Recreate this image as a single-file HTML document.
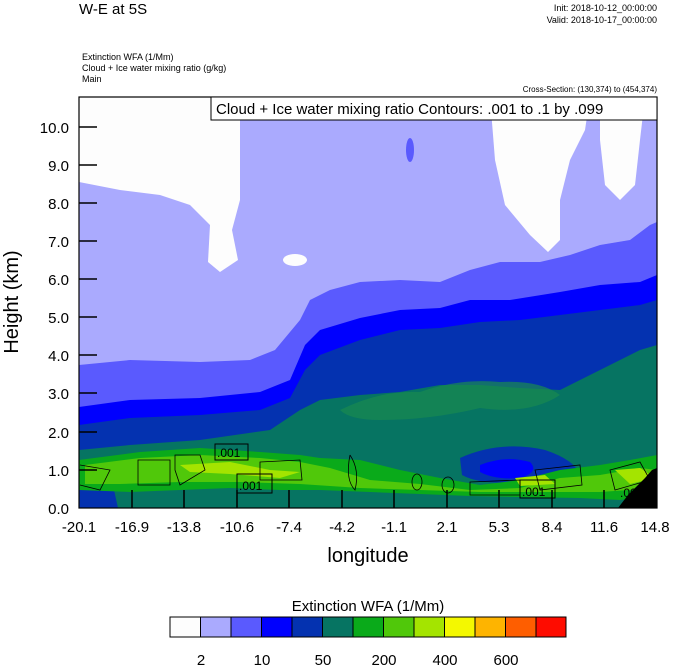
<!DOCTYPE html>
<html><head><meta charset="utf-8"><style>
body{margin:0;background:#fff;}
svg{display:block;font-family:"Liberation Sans",sans-serif;}
</style></head><body>
<svg width="674" height="667" viewBox="0 0 674 667" xmlns="http://www.w3.org/2000/svg">
<text x="79" y="14" font-size="15">W-E at 5S</text>
<text x="657" y="11" font-size="9" text-anchor="end">Init: 2018-10-12_00:00:00</text>
<text x="657" y="23" font-size="9" text-anchor="end">Valid: 2018-10-17_00:00:00</text>
<text x="82" y="60" font-size="9">Extinction WFA   (1/Mm)</text>
<text x="82" y="71" font-size="9">Cloud + Ice water mixing ratio   (g/kg)</text>
<text x="82" y="82" font-size="9">Main</text>
<text x="657" y="92" font-size="8" text-anchor="end">Cross-Section: (130,374) to (454,374)</text>
<defs><clipPath id="c"><rect x="79" y="97" width="578" height="411"/></clipPath></defs>
<g clip-path="url(#c)">
<rect x="79" y="97" width="578" height="411" fill="#aaaafe"/>
<path d="M79,97 L240,97 L240,200 L232,230 L238,260 L220,272 L208,262 L210,225 L190,205 L160,195 L120,190 L79,182 Z" fill="#fdfdfd"/>
<path d="M490,97 L590,97 L585,130 L570,160 L560,200 L560,240 L548,252 L530,235 L505,205 L495,160 Z" fill="#fdfdfd"/>
<path d="M600,97 L645,97 L640,140 L635,185 L620,200 L605,185 L600,140 Z" fill="#fdfdfd"/>
<ellipse cx="295" cy="260" rx="12" ry="6" fill="#fdfdfd"/>
<path d="M79,365 L130,360 L200,362 L250,360 L275,350 L300,320 L310,300 L330,290 L360,282 L400,280 L440,282 L470,270 L500,262 L540,262 L570,255 L600,245 L630,240 L650,225 L657,222 L657,508 L79,508 Z" fill="#5a5afe"/>
<ellipse cx="410" cy="150" rx="4" ry="12" fill="#5a5afe"/>
<path d="M79,407 L130,400 L200,398 L260,392 L290,380 L305,345 L320,330 L360,318 L400,310 L440,308 L470,300 L510,300 L560,292 L600,285 L640,282 L657,275 L657,508 L79,508 Z" fill="#0000fe"/>
<path d="M79,425 L130,418 L200,415 L260,410 L290,398 L305,370 L320,355 L360,340 L400,330 L440,328 L480,322 L520,320 L560,315 L600,310 L640,305 L657,300 L657,508 L79,508 Z" fill="#0432b0"/>
<path d="M79,450 L130,445 L200,440 L270,430 L300,410 L320,400 L360,395 L400,392 L440,385 L480,385 L520,388 L560,390 L600,370 L640,350 L657,345 L657,508 L79,508 Z" fill="#067462"/>
<path d="M340,410 Q380,390 420,392 Q460,378 500,382 Q540,380 560,395 Q530,415 480,408 Q430,420 380,420 Q350,420 340,410 Z" fill="#1a8a50" opacity="0.7"/>
<path d="M460,458 Q500,440 545,450 Q575,460 580,475 Q560,480 520,482 Q480,485 462,475 Z" fill="#0432b0"/>
<path d="M480,465 Q505,455 530,462 Q540,472 520,478 Q495,480 480,472 Z" fill="#0000fe"/>
<path d="M79,470 L110,472 L118,508 L79,508 Z" fill="#0432b0"/>
<path d="M79,460 L140,452 L200,448 L260,452 L300,455 L320,458 L360,460 L400,470 L440,478 L480,485 L520,480 L560,470 L600,465 L630,460 L657,455 L657,495 L620,500 L580,498 L520,497 L470,496 L420,494 L370,492 L320,490 L280,490 L230,488 L180,490 L130,492 L79,490 Z" fill="#0aaa1a"/>
<path d="M85,465 L140,458 L200,455 L260,458 L300,462 L330,468 L370,480 L420,484 L470,490 L520,488 L560,478 L600,475 L640,468 L657,470 L657,488 L600,492 L540,492 L480,492 L420,490 L360,488 L300,484 L240,482 L180,482 L120,484 L85,484 Z" fill="#50c80a"/>
<path d="M180,465 L230,462 L270,470 L300,472 L280,478 L230,474 L190,472 Z" fill="#a4e400"/>
<path d="M515,478 L545,475 L555,484 L520,486 Z" fill="#a4e400"/>
<path d="M615,470 L640,468 L655,478 L630,484 Z" fill="#a4e400"/>
<path d="M618,508 L628,495 L638,485 L645,478 L652,470 L657,468 L657,508 Z" fill="#000"/>
<g fill="none" stroke="#000" stroke-width="0.8">
<path d="M138,460 L170,460 L170,485 L138,485 Z"/>
<path d="M175,455 L200,455 L205,470 L180,485 L175,470 Z"/>
<path d="M260,462 L300,460 L302,480 L260,480 Z"/>
<path d="M80,465 L110,470 L100,490 L80,485"/>
<path d="M350,455 Q360,470 355,490 Q345,480 350,455"/>
<ellipse cx="448" cy="485" rx="6" ry="8"/>
<ellipse cx="417" cy="482" rx="5" ry="8"/>
<path d="M470,482 L520,480 L520,495 L470,495 Z"/>
<path d="M535,470 L580,465 L582,485 L540,490 Z"/>
<path d="M610,470 L640,462 L650,480 L615,490 Z"/>
</g>
<g font-size="12">
<rect x="215" y="444" width="33" height="16" fill="none" stroke="#000"/>
<text x="217" y="457">.001</text>
<rect x="237" y="474" width="35" height="19" fill="none" stroke="#000"/>
<text x="239" y="490">.001</text>
<rect x="520" y="480" width="35" height="18" fill="none" stroke="#000"/>
<text x="522" y="496">.001</text>
<text x="620" y="497">.001</text>
</g>
</g>
<rect x="79" y="97" width="578" height="411" fill="none" stroke="#000" stroke-width="1.2"/>
<rect x="211" y="97" width="446" height="23" fill="#fff" stroke="#000" stroke-width="1"/>
<text x="216" y="114" font-size="15">Cloud + Ice water mixing ratio Contours: .001 to .1 by .099</text>
<g stroke="#000" stroke-width="1.5">
<line x1="79" y1="127" x2="97" y2="127"/><line x1="79" y1="165" x2="97" y2="165"/>
<line x1="79" y1="203" x2="97" y2="203"/><line x1="79" y1="241" x2="97" y2="241"/>
<line x1="79" y1="279" x2="97" y2="279"/><line x1="79" y1="317" x2="97" y2="317"/>
<line x1="79" y1="355" x2="97" y2="355"/><line x1="79" y1="393" x2="97" y2="393"/>
<line x1="79" y1="432" x2="97" y2="432"/><line x1="79" y1="470" x2="97" y2="470"/>
<line x1="132" y1="508" x2="132" y2="490"/><line x1="184" y1="508" x2="184" y2="490"/>
<line x1="237" y1="508" x2="237" y2="490"/><line x1="289" y1="508" x2="289" y2="490"/>
<line x1="342" y1="508" x2="342" y2="490"/><line x1="394" y1="508" x2="394" y2="490"/>
<line x1="447" y1="508" x2="447" y2="490"/><line x1="499" y1="508" x2="499" y2="490"/>
<line x1="552" y1="508" x2="552" y2="490"/><line x1="604" y1="508" x2="604" y2="490"/>
</g>
<g font-size="15" text-anchor="end">
<text x="69" y="133">10.0</text><text x="69" y="171">9.0</text><text x="69" y="209">8.0</text>
<text x="69" y="247">7.0</text><text x="69" y="285">6.0</text><text x="69" y="323">5.0</text>
<text x="69" y="361">4.0</text><text x="69" y="399">3.0</text><text x="69" y="438">2.0</text>
<text x="69" y="476">1.0</text><text x="69" y="514">0.0</text>
</g>
<g font-size="15" text-anchor="middle">
<text x="79" y="532">-20.1</text><text x="132" y="532">-16.9</text><text x="184" y="532">-13.8</text>
<text x="237" y="532">-10.6</text><text x="289" y="532">-7.4</text><text x="342" y="532">-4.2</text>
<text x="394" y="532">-1.1</text><text x="447" y="532">2.1</text><text x="499" y="532">5.3</text>
<text x="552" y="532">8.4</text><text x="604" y="532">11.6</text><text x="655" y="532">14.8</text>
</g>
<text x="368" y="562" font-size="20" text-anchor="middle">longitude</text>
<text transform="translate(18,302) rotate(-90)" font-size="20" text-anchor="middle">Height (km)</text>
<text x="368" y="611" font-size="15" text-anchor="middle">Extinction WFA  (1/Mm)</text>
<g stroke="#000" stroke-width="1">
<rect x="170" y="617" width="30.5" height="20" fill="#fdfdfd"/>
<rect x="200.5" y="617" width="30.5" height="20" fill="#aaaafe"/>
<rect x="231" y="617" width="30.5" height="20" fill="#5a5afe"/>
<rect x="261.5" y="617" width="30.5" height="20" fill="#0000fe"/>
<rect x="292" y="617" width="30.5" height="20" fill="#0432b0"/>
<rect x="322.5" y="617" width="30.5" height="20" fill="#067462"/>
<rect x="353" y="617" width="30.5" height="20" fill="#0aaa1a"/>
<rect x="383.5" y="617" width="30.5" height="20" fill="#50c80a"/>
<rect x="414" y="617" width="30.5" height="20" fill="#a4e400"/>
<rect x="444.5" y="617" width="30.5" height="20" fill="#f4f800"/>
<rect x="475" y="617" width="30.5" height="20" fill="#feb400"/>
<rect x="505.5" y="617" width="30.5" height="20" fill="#fe5e00"/>
<rect x="536" y="617" width="30" height="20" fill="#fe0c00"/>
</g>
<g font-size="15" text-anchor="middle">
<text x="201" y="665">2</text><text x="262" y="665">10</text><text x="323" y="665">50</text>
<text x="384" y="665">200</text><text x="445" y="665">400</text><text x="506" y="665">600</text>
</g>
</svg>
</body></html>
